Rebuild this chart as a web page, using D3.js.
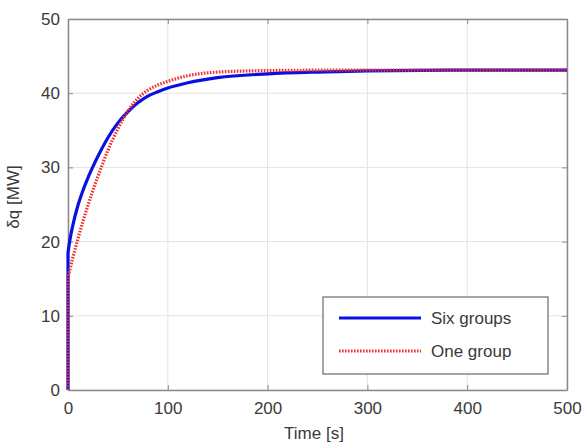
<!DOCTYPE html>
<html>
<head>
<meta charset="utf-8">
<script src="https://cdn.jsdelivr.net/npm/d3@7"></script>
<style>
html,body{margin:0;padding:0;background:#fff;}
svg text{font-family:"Liberation Sans",Arial,sans-serif;fill:#3a3a3a;}
</style>
</head>
<body>
<svg id="chart" width="582" height="446"></svg>
<script>
// Data
const sixT   = [0, 0, 2, 5, 10, 15, 20, 25, 30, 40, 50, 60, 70, 80, 90, 100, 120, 150, 200, 250, 300, 400, 500];
const sixQ   = [0, 18.5, 20.3, 22.3, 24.9, 26.9, 28.6, 30.1, 31.5, 34.0, 36.0, 37.5, 38.7, 39.6, 40.2, 40.7, 41.4, 42.1, 42.6, 42.85, 43.0, 43.1, 43.1];
const oneT   = [0, 0, 5, 10, 20, 30, 40, 50, 60, 70, 80, 90, 100, 120, 150, 200, 250, 500];
const oneQ   = [0, 15.2, 17.9, 20.4, 24.9, 28.8, 32.3, 35.2, 37.6, 39.3, 40.4, 41.1, 41.6, 42.35, 42.85, 43.05, 43.1, 43.1];
const xTicks = [0, 100, 200, 300, 400, 500];
const yTicks = [0, 10, 20, 30, 40, 50];
const seriesNames = ["Six groups", "One group"];
const xLabel = "Time [s]";
const yLabel = "δq [MW]";

const svg = d3.select("#chart");
const L = 68, R = 567, T = 19, B = 390;
const x = d3.scaleLinear().domain([0, 500]).range([L, R]);
const y = d3.scaleLinear().domain([0, 50]).range([B, T]);

// grid
const g = svg.append("g");
g.selectAll(".gx").data(xTicks).enter().append("line")
  .attr("x1", d => x(d)).attr("x2", d => x(d)).attr("y1", T).attr("y2", B)
  .attr("stroke", "#e4e4e4").attr("stroke-width", 1);
g.selectAll(".gy").data(yTicks).enter().append("line")
  .attr("x1", L).attr("x2", R).attr("y1", d => y(d)).attr("y2", d => y(d))
  .attr("stroke", "#e4e4e4").attr("stroke-width", 1);

// axes (MATLAB style, inward ticks)
const axB = d3.axisBottom(x).tickValues(xTicks).tickSizeInner(-5).tickSizeOuter(0).tickPadding(12);
const axL = d3.axisLeft(y).tickValues(yTicks).tickSizeInner(-5).tickSizeOuter(0).tickPadding(8);
const axT = d3.axisTop(x).tickValues(xTicks).tickSizeInner(-5).tickSizeOuter(0).tickFormat("");
const axR = d3.axisRight(y).tickValues(yTicks).tickSizeInner(-5).tickSizeOuter(0).tickFormat("");
function styleAxis(sel){
  sel.select(".domain").attr("stroke", "#8a8a8a").attr("stroke-width", 1.5);
  sel.selectAll(".tick line").attr("stroke", "#8a8a8a");
  sel.selectAll(".tick text").attr("font-size", 17).style("fill", "#3a3a3a");
}
svg.append("g").attr("transform", `translate(0,${B})`).call(axB).call(styleAxis);
svg.append("g").attr("transform", `translate(${L},0)`).call(axL).call(styleAxis);
svg.append("g").attr("transform", `translate(0,${T})`).call(axT).call(styleAxis);
svg.append("g").attr("transform", `translate(${R},0)`).call(axR).call(styleAxis);

// lines
function pathFor(ts, qs){
  const pts = ts.map((t, i) => [t, qs[i]]);
  const line = d3.line().x(d => x(d[0])).y(d => y(d[1])).curve(d3.curveMonotoneX);
  const rest = line(pts.slice(1));
  return `M${x(pts[0][0])},${y(pts[0][1])}L` + rest.slice(1);
}
svg.append("path").attr("d", pathFor(sixT, sixQ))
  .attr("fill", "none").attr("stroke", "#0a10e0").attr("stroke-width", 3.2);
svg.append("path").attr("d", pathFor(oneT, oneQ))
  .attr("fill", "none").attr("stroke", "#f03030").attr("stroke-width", 3.2)
  .attr("stroke-dasharray", "1.6,1.4");

// labels
svg.append("text").attr("x", 314).attr("y", 439).attr("text-anchor", "middle")
  .attr("font-size", 17).text(xLabel);
svg.append("text").attr("transform", `translate(19,197) rotate(-90)`)
  .attr("text-anchor", "middle").attr("font-size", 17).text(yLabel);

// legend
const lg = svg.append("g");
lg.append("rect").attr("x", 323).attr("y", 297).attr("width", 225).attr("height", 77)
  .attr("fill", "#fff").attr("stroke", "#6a6a6a").attr("stroke-width", 1.2);
const styles = [
  {stroke: "#0a10e0", dash: null},
  {stroke: "#f03030", dash: "1.6,1.4"}
];
seriesNames.forEach((n, i) => {
  const yy = 318 + i * 33;
  const ln = lg.append("line").attr("x1", 339).attr("x2", 421).attr("y1", yy).attr("y2", yy)
    .attr("stroke", styles[i].stroke).attr("stroke-width", 3.2);
  if (styles[i].dash) ln.attr("stroke-dasharray", styles[i].dash);
  lg.append("text").attr("x", 431).attr("y", yy + 6).attr("font-size", 17).text(n);
});
</script>
</body>
</html>
